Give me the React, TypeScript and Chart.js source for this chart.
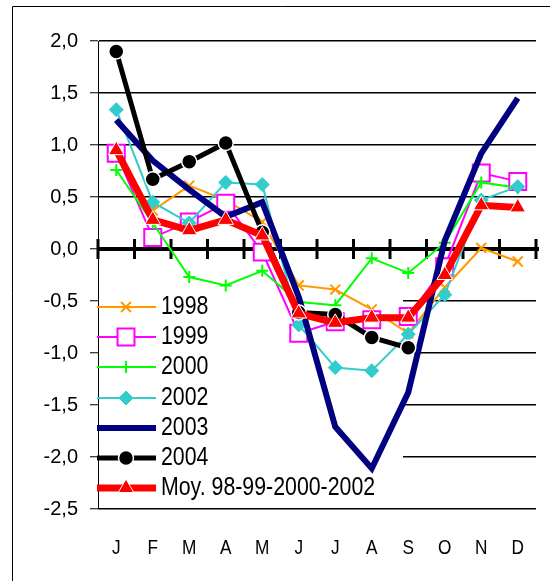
import { useEffect, useRef } from 'react';
import { Chart, registerables } from 'chart.js';
import { drawPoint } from 'chart.js/helpers';

Chart.register(...registerables);

const months = ['J', 'F', 'M', 'A', 'M', 'J', 'J', 'A', 'S', 'O', 'N', 'D'];
const s1998 = [0.88, 0.37, 0.61, 0.47, 0.26, -0.35, -0.39, -0.58, -0.81, -0.37, 0.01, -0.12];
const s1999 = [0.92, 0.11, 0.26, 0.44, -0.03, -0.81, -0.7, -0.68, -0.65, -0.17, 0.73, 0.65];
const s2000 = [0.76, 0.25, -0.27, -0.35, -0.21, -0.51, -0.54, -0.09, -0.23, 0.06, 0.64, 0.59];
const s2002 = [1.34, 0.45, 0.25, 0.64, 0.62, -0.73, -1.14, -1.17, -0.82, -0.44, 0.47, 0.6];
const s2003 = [1.24, 0.85, 0.57, 0.31, 0.45, -0.46, -1.71, -2.11, -1.38, 0.08, 0.92, 1.45];
const s2004 = [1.9, 0.67, 0.84, 1.02, 0.16, -0.61, -0.63, -0.85, -0.95, null, null, null];
const sMoy = [0.95, 0.28, 0.18, 0.28, 0.13, -0.62, -0.71, -0.66, -0.66, -0.25, 0.42, 0.4];
const seriesNames = ['1998', '1999', '2000', '2002', '2003', '2004', 'Moy. 98-99-2000-2002'];

const FONT = "'Liberation Sans', Arial, sans-serif";
const NARROW = 0.82;

type Sty = {
  color: string;
  width: number;
  pointStyle: any;
  radius: number;
  fill: string;
  border: string;
  bw: number;
};

const styles: Sty[] = [
  { color: '#FF9900', width: 2, pointStyle: 'crossRot', radius: 7, fill: '#FF9900', border: '#FF9900', bw: 2 },
  { color: '#FF00FF', width: 2, pointStyle: 'rect', radius: 12, fill: '#FFFFFF', border: '#FF00FF', bw: 2 },
  { color: '#00FF00', width: 2, pointStyle: 'cross', radius: 6, fill: '#00FF00', border: '#00FF00', bw: 2 },
  { color: '#33CCCC', width: 2, pointStyle: 'rectRot', radius: 7, fill: '#33CCCC', border: '#33CCCC', bw: 1 },
  { color: '#000080', width: 6, pointStyle: false, radius: 0, fill: '#000080', border: '#000080', bw: 0 },
  { color: '#000000', width: 5, pointStyle: 'circle', radius: 7.5, fill: '#000000', border: '#FFFFFF', bw: 1.5 },
  { color: '#FF0000', width: 7, pointStyle: 'triangle', radius: 9, fill: '#FF0000', border: '#FFFFFF', bw: 1 },
];

const seriesData = [s1998, s1999, s2000, s2002, s2003, s2004, sMoy];

function narrowText(ctx: CanvasRenderingContext2D, text: string, x: number, y: number, align: 'left' | 'center') {
  ctx.save();
  ctx.translate(x, y);
  ctx.scale(NARROW, 1);
  ctx.textAlign = align;
  ctx.textBaseline = 'alphabetic';
  ctx.fillText(text, 0, 0);
  ctx.restore();
}

const decorPlugin = {
  id: 'decor',
  beforeDraw(chart: any) {
    const ctx = chart.ctx;
    ctx.save();
    ctx.strokeStyle = '#000';
    ctx.lineWidth = 1;
    ctx.beginPath();
    ctx.moveTo(12.5, 581);
    ctx.lineTo(12.5, 6.5);
    ctx.lineTo(550, 6.5);
    ctx.stroke();
    ctx.restore();
  },
  beforeDatasetsDraw(chart: any) {
    const ctx = chart.ctx;
    const y = chart.scales.y;
    const area = chart.chartArea;
    const y0 = y.getPixelForValue(0);
    ctx.save();
    // legend background covering gridlines
    ctx.fillStyle = '#FFFFFF';
    ctx.fillRect(area.left + 1, 290, 402 - area.left, 213);
    // zero axis line
    ctx.strokeStyle = '#000';
    ctx.lineWidth = 4;
    ctx.beginPath();
    ctx.moveTo(area.left, y0);
    ctx.lineTo(area.right + 3, y0);
    ctx.stroke();
    // category tick marks crossing the axis
    ctx.lineWidth = 3;
    const step = (area.right - area.left) / months.length;
    for (let i = 0; i <= months.length; i++) {
      const px = area.left + step * i;
      ctx.beginPath();
      ctx.moveTo(px, y0 - 10);
      ctx.lineTo(px, y0 + 10);
      ctx.stroke();
    }
    // legend
    const ys = [307, 337, 367, 398, 428, 458, 488];
    ctx.font = `26px ${FONT}`;
    styles.forEach((s, i) => {
      const ly = ys[i];
      ctx.strokeStyle = s.color;
      ctx.lineWidth = s.width;
      ctx.beginPath();
      ctx.moveTo(97, ly);
      ctx.lineTo(156, ly);
      ctx.stroke();
      if (s.pointStyle) {
        ctx.fillStyle = s.fill;
        ctx.strokeStyle = s.border;
        ctx.lineWidth = s.bw;
        drawPoint(ctx, { pointStyle: s.pointStyle, radius: s.radius, borderWidth: s.bw, rotation: 0 } as any, 126, ly);
      }
      ctx.fillStyle = '#000';
      narrowText(ctx, seriesNames[i], 161, ly + 7, 'left');
    });
    ctx.restore();
  },
  afterDraw(chart: any) {
    const ctx = chart.ctx;
    const x = chart.scales.x;
    ctx.save();
    ctx.fillStyle = '#000';
    ctx.font = `21px ${FONT}`;
    months.forEach((m, i) => {
      narrowText(ctx, m, x.getPixelForValue(i), 554, 'center');
    });
    ctx.restore();
  },
};

export default function App() {
  const ref = useRef<HTMLCanvasElement | null>(null);
  useEffect(() => {
    document.body.style.margin = '0';
    if (!ref.current) return;
    const orders = [6, 5, 4, 3, 2, 1, 0];
    const chart = new Chart(ref.current, {
      type: 'line',
      data: {
        labels: months,
        datasets: seriesData.map((d, i) => ({
          label: seriesNames[i],
          data: d,
          borderColor: styles[i].color,
          borderWidth: styles[i].width,
          backgroundColor: styles[i].fill,
          pointStyle: styles[i].pointStyle,
          pointRadius: styles[i].radius,
          pointHoverRadius: styles[i].radius,
          pointBackgroundColor: styles[i].fill,
          pointBorderColor: styles[i].border,
          pointBorderWidth: styles[i].bw,
          tension: 0,
          fill: false,
          spanGaps: false,
          order: orders[i],
        })),
      },
      options: {
        animation: false,
        responsive: false,
        devicePixelRatio: 1,
        layout: { padding: { left: 0, top: 41, right: 8, bottom: 0 } },
        plugins: { legend: { display: false }, tooltip: { enabled: false } },
        scales: {
          x: {
            offset: true,
            grid: { display: false, drawTicks: false },
            border: { display: false },
            ticks: { display: false },
            afterFit: (s: any) => { s.height = 72; },
          },
          y: {
            min: -2.5,
            max: 2,
            ticks: {
              stepSize: 0.5,
              color: '#000',
              font: { family: FONT, size: 20 },
              padding: 12,
              callback: (v: any) => Number(v).toFixed(1).replace('.', ','),
            },
            grid: { color: '#000', lineWidth: 1.5, tickLength: 8, tickColor: '#000', tickWidth: 1 },
            border: { display: true, color: '#000', width: 1 },
            afterFit: (s: any) => { s.width = 98; },
          },
        },
      },
      plugins: [decorPlugin],
    });
    return () => chart.destroy();
  }, []);
  return (
    <div style={{ position: 'absolute', left: 0, top: 0, width: 550, height: 581 }}>
      <canvas ref={ref} width={550} height={581} />
    </div>
  );
}
